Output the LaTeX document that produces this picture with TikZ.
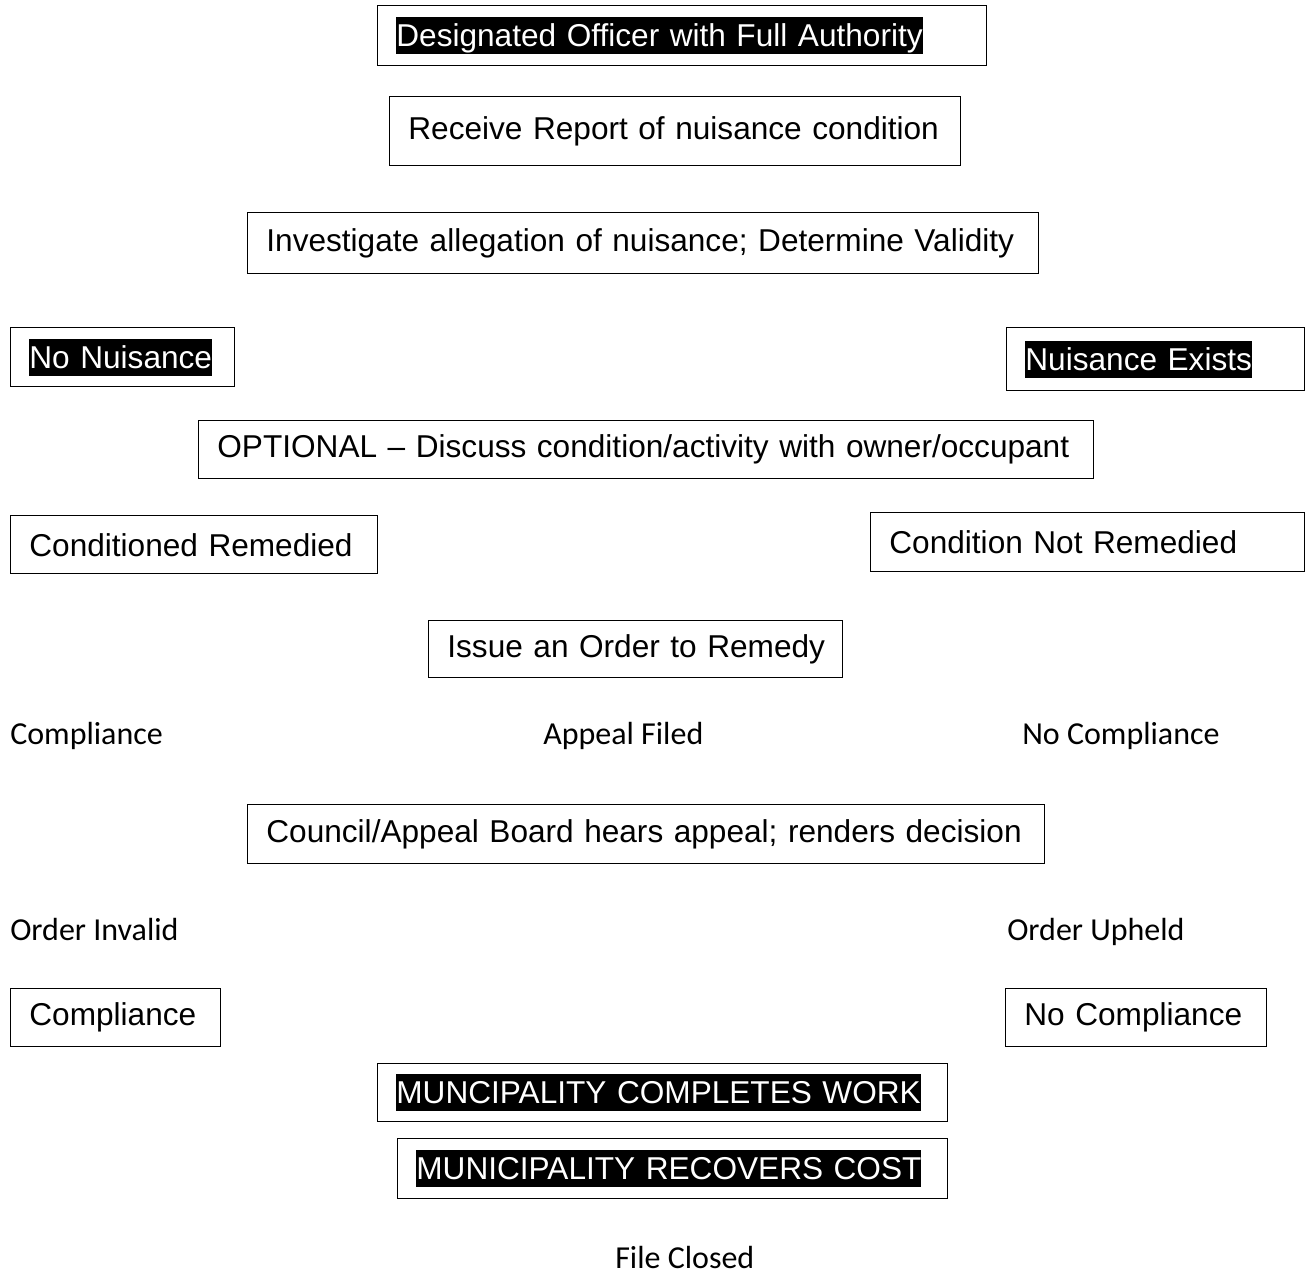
\documentclass[tikz,border=0pt]{standalone}
\usepackage{fontspec}
\setmainfont{Liberation Sans}
\newfontfamily\calibri{Carlito}
\usepackage{tikz}

\newcommand{\blackhl}[1]{{\setlength{\fboxsep}{0pt}\colorbox{black}{\color{white}\rule[-0.24em]{0pt}{1.18em}#1}}}

\begin{document}
\begin{tikzpicture}[x=0.75pt, y=-0.75pt,
    flowbox/.style={draw, line width=1.1pt, anchor=north west, align=left, inner xsep=14pt, inner ysep=0pt, font=\fontsize{23.7}{28}\selectfont},
    plainlbl/.style={anchor=base west, inner sep=0pt, font=\calibri\fontsize{24}{28}\selectfont}]
        \useasboundingbox (0,0) rectangle (1306,1276);
        % top of the chart
        \node[flowbox, text width=428.75pt, minimum height=45pt] (officer) at (377,5) {\blackhl{Designated Officer with Full Authority}};
        \node[flowbox, text width=400.25pt, minimum height=51.75pt] (report) at (389,96) {Receive Report of nuisance condition};
        \node[flowbox, text width=565.25pt, minimum height=45.75pt] (investigate) at (247,212) {Investigate allegation of nuisance; Determine Validity};
        \node[flowbox, text width=140pt, minimum height=44.25pt] (nonuis) at (10,327) {\blackhl{No Nuisance}};
        \node[flowbox, text width=195.5pt, minimum height=47.25pt] (nuisexists) at (1006,327) {\blackhl{Nuisance Exists}};
        \node[flowbox, text width=643.25pt, minimum height=43.5pt] (optional) at (198,420) {OPTIONAL -- Discuss condition/activity with owner/occupant};
        \node[flowbox, text width=247.25pt, minimum height=43.5pt] (remedied) at (10,515) {Conditioned Remedied};
        \node[flowbox, text width=297.5pt, minimum height=44.25pt] (notremedied) at (870,512) {Condition Not Remedied};
        \node[flowbox, text width=290.5pt, inner xsep=10pt, minimum height=42.75pt] (order) at (428,620) {\hspace*{4pt}Issue an Order to Remedy};
        % outcomes of the order
        \node[plainlbl] (comply) at (10,744) {Compliance};
        \node[plainlbl] (appeal) at (543,744) {Appeal Filed};
        \node[plainlbl] (nocomply) at (1022,744) {No Compliance};
        \node[flowbox, text width=569.75pt, minimum height=44.25pt] (council) at (247,804) {Council/Appeal Board hears appeal; renders decision};
        \node[plainlbl] (invalid) at (10,940) {Order Invalid};
        \node[plainlbl] (upheld) at (1007,940) {Order Upheld};
        \node[flowbox, text width=129.5pt, minimum height=43.5pt] (comply2) at (10,988) {Compliance};
        \node[flowbox, text width=167.75pt, minimum height=43.5pt] (nocomply2) at (1005,988) {No Compliance};
        % municipality steps
        \node[flowbox, text width=399.5pt, minimum height=43.5pt] (works) at (377,1063) {\blackhl{MUNCIPALITY COMPLETES WORK}};
        \node[flowbox, text width=384.5pt, minimum height=45pt] (recover) at (397,1138) {\blackhl{MUNICIPALITY RECOVERS COST}};
        \node[plainlbl] (closed) at (615,1268) {File Closed};
    \end{tikzpicture}
\end{document}
